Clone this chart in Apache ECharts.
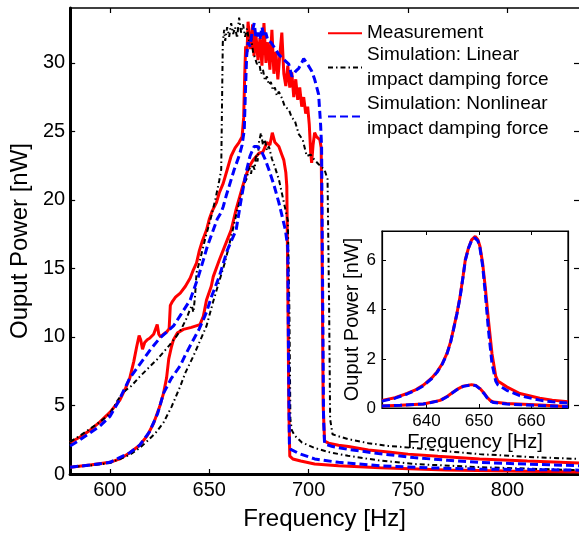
<!DOCTYPE html>
<html>
<head>
<meta charset="utf-8">
<script src="https://cdn.jsdelivr.net/npm/echarts@6/dist/echarts.min.js"></script>
<style>html,body{margin:0;padding:0;background:#fff;}#c{width:579px;height:536px;}</style>
</head>
<body>
<div id="c"></div>
<script>
// ---------- data (frequency Hz, output power nW) ----------
const mainXTicks = [600, 650, 700, 750, 800];
const mainYTicks = [0, 5, 10, 15, 20, 25, 30];
const insetXTicks = [640, 650, 660];
const insetYTicks = [0, 2, 4, 6];

const measHigh = [[580,2.3],[585,2.7],[590,3.2],[595,3.8],[600,4.5],[605,5.4],[608,6.3],[610,7.0],[612,8.2],[613.5,9.3],[614.7,10.1],[615.5,9.8],[616.4,9.1],[617.5,9.6],[618.8,9.8],[620,9.9],[622,10.2],[623,10.1],[623.8,10.9],[624.6,10.2],[625.5,10.0],[627,10.2],[628.8,10.4],[629.8,10.6],[630.4,12.3],[631.5,12.6],[633,12.9],[635.4,13.2],[638,13.7],[640.4,14.3],[642,14.9],[643.6,15.4],[645,16.3],[646.5,17.0],[648.6,17.8],[650,18.6],[651.5,19.2],[653.6,19.8],[655,20.5],[657,21.2],[659,22.2],[661,23.2],[663,23.8],[665,24.2],[666.5,24.6],[667.3,26],[667.8,29],[668.3,31.2],[669,30.8],[669.5,33],[670,32.2],[670.8,31],[671.8,32.8],[672.5,30.5],[673.5,32],[674.5,30.2],[675.5,31.8],[676.5,29.8],[677.5,32.9],[678.5,30],[679.5,31.5],[680.5,29.5],[681.5,32.4],[682.5,29.2],[683.5,30.8],[684.5,28.8],[685.5,30.6],[686.5,32.2],[687.5,29.2],[688.5,28.3],[689.5,29.8],[690.5,28.2],[691.5,29.3],[692.5,27.5],[693.5,28.8],[694.5,27.3],[695.5,28.2],[696.5,26.8],[697.5,27.5],[698.5,26.3],[699.5,26.8],[700.3,25.5],[701,23.5],[701.5,22.7],[702.2,24],[703,24.9],[704,24.6],[705.6,24.4],[706.3,23.8],[706.8,15],[707.3,5],[708,2.4],[710,2.25],[715,2.1],[720,2.0],[730,1.75],[740,1.6],[750,1.45],[765,1.3],[786,1.1],[810,0.95],[836,0.8]];

const measLow = [[580,0.5],[590,0.65],[600,0.85],[605,1.1],[610,1.55],[615,2.1],[618.8,2.8],[622,3.7],[625,4.9],[627,5.9],[628.5,7.0],[629.6,8.4],[631,9.3],[632,9.8],[634,10.3],[637,10.55],[641,10.7],[645.3,10.9],[647,11.5],[648.6,12.7],[651,13.7],[652,14.4],[655,15.6],[658,16.7],[661,17.8],[663.5,19.3],[666.8,21],[668.5,21.8],[670,22.4],[672,22.9],[675,23.4],[677,23.5],[679,24.2],[680.5,24.0],[681.7,24.9],[683,24.2],[685,23.9],[686.5,23.3],[687.5,22.9],[688.5,22.0],[689,21],[689.5,14],[690,5],[690.5,1.3],[692,1.1],[696,0.95],[703,0.73],[715,0.6],[736,0.45],[769,0.3],[800,0.22],[836,0.15]];

const linHigh = [[580,2.35],[585,2.8],[590,3.3],[595,3.8],[600,4.4],[604,5.4],[607,6.0],[610.6,6.4],[615,7.1],[620.5,7.9],[624,8.4],[627,8.9],[630,9.4],[633.7,10.1],[636,10.6],[638.7,11.4],[640,11.9],[641.2,12.3],[642,11.8],[642.8,12.9],[643.6,14.7],[645.3,15.6],[648,17.2],[651,18.8],[653,20.0],[655,21.4],[656,22.2],[656.4,27],[656.8,31.5],[657.5,32.4],[658,31.6],[659,32.6],[660,31.9],[661,32.9],[662,32.1],[663,32.6],[664,31.8],[665,33.3],[666,32.2],[667,32.8],[668,31.9],[669,32.5],[670,31.6],[671,31.9],[672,30.8],[673,30.9],[674,29.9],[675,30.1],[676,29.2],[677,29.5],[678,28.7],[679,29.0],[680,28.4],[681,28.6],[682,28.0],[683,28.2],[684,27.6],[685,27.9],[686.6,27.4],[688,26.8],[690,26.6],[691.5,26.0],[693,25.8],[695,24.8],[697,24.4],[699,23.2],[701,23.3],[703,22.9],[705,22.6],[708,22.2],[709.5,21.5],[710.3,12],[710.8,4],[712,2.9],[715,2.75],[719.7,2.55],[730,2.25],[740,2.05],[752.8,1.9],[770,1.65],[786,1.45],[810,1.25],[836,1.1]];

const linLow = [[580,0.5],[590,0.62],[600,0.8],[610,1.4],[615,1.9],[618.8,2.4],[623,3.0],[627,3.76],[631,4.9],[635.4,6.4],[638,7.4],[642,8.6],[645,9.6],[648.6,10.8],[652,12.6],[655.3,14.2],[658,15.5],[661.8,17.8],[664,19.2],[666,20.3],[667.6,21.2],[669,21.6],[670,22.5],[671,21.9],[671.8,22.6],[672.8,22.2],[673.5,23.3],[674.3,22.8],[675,24.2],[676,24.9],[677,24.0],[678,24.4],[679,23.6],[680,23.9],[681.5,23.0],[683,22.4],[685,21.5],[686.5,20.5],[688.3,19.3],[689.5,18.5],[690.3,12],[690.8,4],[691.5,3.2],[693,2.8],[696.6,2.3],[703,1.9],[710,1.6],[719.7,1.33],[735,1.0],[752.8,0.73],[786,0.5],[836,0.28]];

const nonlinHigh = [[580,2.05],[585,2.5],[590,3.0],[595,3.5],[600,4.2],[604,5.2],[607.3,6.2],[610,7.0],[615,8.0],[620.5,9.1],[625,9.9],[632,10.8],[636,11.7],[640.4,12.7],[644.5,14.4],[647,15.6],[649,16.6],[652,17.8],[654,18.6],[656,19.1],[657,19.5],[658.5,20.3],[660,21.0],[662.5,22.2],[665,23.2],[666.5,24.0],[667.6,25.1],[668.2,28],[668.8,30.5],[669.5,31.5],[670.5,31.2],[671.5,32.2],[672.6,32.9],[673.5,31.8],[674.5,32.2],[675.5,31.7],[676.5,32.6],[677.5,31.9],[678.4,32.2],[679.5,31.6],[681,31.5],[683.3,31.0],[685,30.6],[687,30.3],[690,29.9],[691.6,29.0],[693.5,29.4],[695,29.6],[696.5,30.0],[697.5,30.3],[699,30.0],[701.5,29.4],[703,28.8],[705,27.7],[706,25.5],[706.5,23.9],[707,14],[707.5,4],[708,2.2],[712,2.0],[719.7,1.8],[735,1.5],[752.8,1.2],[770,1.0],[786,0.85],[810,0.72],[836,0.6]];

const nonlinLow = [[580,0.5],[590,0.65],[600,0.85],[610,1.55],[615,2.1],[620,3.1],[624,4.4],[627,5.9],[631,7.0],[635.4,7.9],[638,8.7],[642,9.8],[645,10.6],[648.6,11.8],[651,12.9],[655,14.4],[659,16.3],[663.5,17.8],[666,20.0],[668.5,22],[670.5,23.2],[672.6,23.9],[674,23.9],[675.9,23.65],[678,23.0],[680,22.2],[682.5,21.1],[685,19.8],[688.3,17.8],[689.5,16.5],[689.9,8],[690.3,2.2],[691,1.8],[695,1.5],[703,1.1],[715,0.85],[736,0.6],[760,0.45],[786,0.36],[836,0.28]];

const insetMeasBig = [[631.5,0.31],[634,0.42],[636.3,0.59],[638,0.75],[639.4,0.93],[641,1.22],[642,1.47],[643,1.8],[643.9,2.22],[644.6,2.7],[645.1,3.17],[645.8,3.85],[646.4,4.53],[647,5.4],[647.4,6.03],[648,6.5],[648.6,6.84],[649.3,6.98],[649.8,6.85],[650.2,6.57],[650.7,5.9],[651.2,4.94],[651.8,3.6],[652.5,2.2],[653.2,1.3],[653.6,1.1],[655.3,0.86],[657.8,0.59],[661.6,0.4],[664,0.32],[667,0.25]];
const insetSimBig = [[631.5,0.28],[634,0.4],[636.3,0.57],[638,0.73],[639.4,0.9],[641,1.2],[642,1.45],[643,1.78],[643.9,2.2],[644.6,2.68],[645.1,3.15],[645.8,3.83],[646.4,4.5],[647,5.38],[647.4,6.0],[648,6.5],[648.6,6.82],[649.2,6.92],[649.8,6.8],[650.2,6.5],[650.7,5.8],[651.2,4.7],[651.8,3.2],[652.5,1.8],[653.2,1.1],[653.6,0.95],[655.3,0.72],[657.8,0.5],[661.6,0.32],[664,0.25],[667,0.2]];
const insetMeasSmall = [[631.5,0.08],[635,0.11],[639.4,0.16],[642.6,0.31],[644,0.48],[645.1,0.65],[646,0.78],[647,0.89],[648.6,0.95],[649.4,0.92],[650.2,0.79],[651,0.6],[651.5,0.45],[652.2,0.3],[652.8,0.24],[655.3,0.18],[661.6,0.12],[667,0.06]];
const insetSimSmall = [[631.5,0.08],[635,0.11],[639.4,0.16],[642.6,0.3],[644,0.47],[645.1,0.64],[646,0.77],[647,0.88],[648.6,0.94],[649.4,0.91],[650.2,0.78],[651,0.58],[651.5,0.43],[652.2,0.28],[652.8,0.22],[655.3,0.16],[661.6,0.1],[667,0.05]];

const NAME_MEAS = 'Measurement';
const NAME_LIN = 'Simulation: Linear\nimpact damping force';
const NAME_NON = 'Simulation: Nonlinear\nimpact damping force';

// ---------- styles ----------
const FF = '"Liberation Sans", Arial, sans-serif';
const RED = '#ff0000', BLACK = '#000000', BLUE = '#0000ff';
const redLine = {color: RED, width: 3};
const blackLine = {color: BLACK, width: 2, type: [5, 3, 1.5, 3]};
const blueLine = {color: BLUE, width: 3, type: [8, 4]};

function ln(name, data, xi, yi, style, z) {
  return {name, type: 'line', xAxisIndex: xi, yAxisIndex: yi, data, symbol: 'none', showSymbol: false,
    lineStyle: style, itemStyle: {color: style.color}, z: z, silent: true, animation: false};
}

function legendAt(name, top) {
  return {data: [name], left: 327, top: top, orient: 'vertical', itemWidth: 34, itemHeight: 14,
    selectedMode: false, padding: 0,
    itemStyle: {opacity: 0, borderWidth: 0, color: 'rgba(0,0,0,0)'},
    textStyle: {fontSize: 19, fontFamily: FF, color: '#000', lineHeight: 24.5}};
}

const chart = echarts.init(document.getElementById('c'), null, {renderer: 'canvas'});
chart.setOption({
  animation: false,
  backgroundColor: '#fff',
  legend: [legendAt(NAME_MEAS, 21), legendAt(NAME_LIN, 43), legendAt(NAME_NON, 92)],
  grid: [
    {left: 65, top: 8, width: 516, height: 467, show: false},
    {left: 382, top: 231, width: 186, height: 177, show: true, backgroundColor: '#fff', borderColor: '#000', borderWidth: 1.2, z: 5}
  ],
  xAxis: [
    {gridIndex: 0, type: 'value', min: 580, max: 836, position: 'bottom',
      axisLine: {show: true, onZero: false, lineStyle: {color: '#000', width: 3}},
      axisTick: {show: true, inside: true, length: 5, customValues: mainXTicks, lineStyle: {color: '#000', width: 1.2}},
      axisLabel: {customValues: mainXTicks, fontSize: 20, fontFamily: FF, color: '#000', margin: 6},
      splitLine: {show: false},
      name: 'Frequency [Hz]', nameLocation: 'middle', nameGap: 33,
      nameTextStyle: {fontSize: 24, fontFamily: FF, color: '#000'}},
    {gridIndex: 0, type: 'value', min: 580, max: 836, position: 'top',
      axisLine: {show: true, onZero: false, lineStyle: {color: '#000', width: 1.5}},
      axisTick: {show: true, inside: true, length: 5, customValues: mainXTicks, lineStyle: {color: '#000', width: 1.2}},
      axisLabel: {show: false}, splitLine: {show: false}},
    {gridIndex: 1, type: 'value', min: 631.5, max: 667, position: 'bottom',
      axisLine: {show: true, onZero: false, lineStyle: {color: '#000', width: 1.2}},
      axisTick: {show: true, inside: true, length: 4, customValues: insetXTicks, lineStyle: {color: '#000', width: 1}},
      axisLabel: {customValues: insetXTicks, fontSize: 17, fontFamily: FF, color: '#000', margin: 5},
      splitLine: {show: false}, z: 6,
      name: 'Frequency [Hz]', nameLocation: 'middle', nameGap: 24,
      nameTextStyle: {fontSize: 20, fontFamily: FF, color: '#000'}},
    {gridIndex: 1, type: 'value', min: 631.5, max: 667, position: 'top',
      axisLine: {show: true, onZero: false, lineStyle: {color: '#000', width: 1.2}},
      axisTick: {show: true, inside: true, length: 4, customValues: insetXTicks, lineStyle: {color: '#000', width: 1}},
      axisLabel: {show: false}, splitLine: {show: false}, z: 6}
  ],
  yAxis: [
    {gridIndex: 0, type: 'value', min: 0, max: 34, position: 'left',
      axisLine: {show: true, onZero: false, lineStyle: {color: '#000', width: 3}},
      axisTick: {show: true, inside: true, length: 5, customValues: mainYTicks, lineStyle: {color: '#000', width: 1.2}},
      axisLabel: {customValues: mainYTicks, fontSize: 20, fontFamily: FF, color: '#000', margin: 5},
      splitLine: {show: false},
      name: 'Ouput Power [nW]', nameLocation: 'middle', nameGap: 30,
      nameTextStyle: {fontSize: 24, fontFamily: FF, color: '#000'}},
    {gridIndex: 0, type: 'value', min: 0, max: 34, position: 'right',
      axisLine: {show: false},
      axisTick: {show: true, inside: true, length: 5, customValues: mainYTicks, lineStyle: {color: '#000', width: 1.2}},
      axisLabel: {show: false}, splitLine: {show: false}},
    {gridIndex: 1, type: 'value', min: 0, max: 7.2, position: 'left',
      axisLine: {show: true, onZero: false, lineStyle: {color: '#000', width: 1.2}},
      axisTick: {show: true, inside: true, length: 4, customValues: insetYTicks, lineStyle: {color: '#000', width: 1}},
      axisLabel: {customValues: insetYTicks, fontSize: 17, fontFamily: FF, color: '#000', margin: 6},
      splitLine: {show: false}, z: 6,
      name: 'Ouput Power [nW]', nameLocation: 'middle', nameGap: 17,
      nameTextStyle: {fontSize: 20, fontFamily: FF, color: '#000'}},
    {gridIndex: 1, type: 'value', min: 0, max: 7.2, position: 'right',
      axisLine: {show: true, onZero: false, lineStyle: {color: '#000', width: 1.2}},
      axisTick: {show: true, inside: true, length: 4, customValues: insetYTicks, lineStyle: {color: '#000', width: 1}},
      axisLabel: {show: false}, splitLine: {show: false}, z: 6}
  ],
  series: [
    ln(NAME_MEAS, measHigh, 0, 0, redLine, 2),
    ln(NAME_MEAS, measLow, 0, 0, redLine, 2),
    ln(NAME_LIN, linHigh, 0, 0, blackLine, 3),
    ln(NAME_LIN, linLow, 0, 0, blackLine, 3),
    ln(NAME_NON, nonlinHigh, 0, 0, blueLine, 4),
    ln(NAME_NON, nonlinLow, 0, 0, blueLine, 4),
    ln(NAME_MEAS, insetMeasBig, 2, 2, redLine, 7),
    ln(NAME_MEAS, insetMeasSmall, 2, 2, redLine, 7),
    ln(NAME_NON, insetSimBig, 2, 2, blueLine, 8),
    ln(NAME_NON, insetSimSmall, 2, 2, blueLine, 8)
  ]
});
</script>
</body>
</html>
